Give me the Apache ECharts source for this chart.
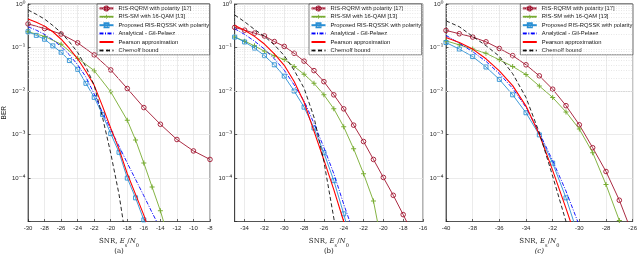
<!DOCTYPE html>
<html><head><meta charset="utf-8">
<script src="https://cdn.jsdelivr.net/npm/echarts@6/dist/echarts.min.js"></script>
<style>html,body{margin:0;padding:0;background:#fff}#c{width:640px;height:260px}</style>
</head><body><div id="c"></div>
<script>
// ---------- data ----------
const names = ['RIS-RQRM with polarity [17]', 'RIS-SM with 16-QAM [13]', 'Proposed RIS-RQSSK with polarity',
  'Analytical - Gil-Pelaez', 'Pearson approximation', 'Chernoff bound'];
const panelLabels = ['(a)', '(b)', '(c)'];
const xTicksB = [-34, -32, -30, -28, -26, -24, -22, -20, -18, -16];

// panel (a)
const snrA_rqrm = [-30, -28, -26, -24, -22, -20, -18, -16, -14, -12, -10, -8];
const rqrmA = [0.349, 0.273, 0.204, 0.128, 0.0675, 0.0305, 0.0114, 0.00416, 0.00172, 7.67e-4, 4.19e-4, 2.67e-4];
const snrA_sm = [-30, -28, -26, -24, -22, -20, -18, -17, -16, -15, -14, -13];
const smA = [0.23, 0.18, 0.119, 0.0568, 0.0294, 0.00955, 0.00212, 7.5e-4, 2.21e-4, 6.2e-5, 1.77e-5, 4e-6];
const snrA_prop = [-30, -29, -28, -27, -26, -25, -24, -23, -22, -21, -20, -19, -18, -17, -16, -15];
const propA = [0.23, 0.19, 0.155, 0.109, 0.0776, 0.0501, 0.0315, 0.015, 0.00714, 0.0029, 0.00105, 3.9e-4, 9.95e-5, 3.5e-5, 1.09e-5, 3e-6];
const snrA_ana = [-30, -29, -28, -27, -26, -25, -24, -23, -22, -21, -20, -19, -18, -17, -16, -15, -14];
const anaA = [0.3, 0.25, 0.2, 0.15, 0.105, 0.068, 0.04, 0.021, 0.0085, 0.0032, 0.0013, 5.4e-4, 2.2e-4, 9.3e-5, 3.9e-5, 1.6e-5, 6.8e-6];
const snrA_pear = [-30, -29, -28, -27, -26, -25, -24, -23, -22, -21, -20, -19, -18, -17, -16, -15];
const pearA = [0.45, 0.38, 0.31, 0.23, 0.155, 0.095, 0.055, 0.028, 0.0135, 0.0045, 0.0014, 4.6e-4, 1.25e-4, 4.2e-5, 1.4e-5, 4e-6];
const snrA_cher = [-30, -29, -28, -27, -26, -25, -24, -23, -22, -21, -20, -19, -18];
const cherA = [0.73, 0.58, 0.45, 0.32, 0.22, 0.135, 0.077, 0.036, 0.0135, 0.0025, 3.7e-4, 4.2e-5, 2.5e-6];

// panel (b)
const snrB_rqrm = [-35, -34, -33, -32, -31, -30, -29, -28, -27, -26, -25, -24, -23, -22, -21, -20, -19, -18, -17];
const rqrmB = [0.29, 0.25, 0.214, 0.184, 0.137, 0.106, 0.0736, 0.0486, 0.0294, 0.0164, 0.00817, 0.00389, 0.00164, 6.9e-4, 2.67e-4, 1.03e-4, 4e-5, 1.44e-5, 5e-6];
const snrB_sm = [-35, -34, -33, -32, -31, -30, -29, -28, -27, -26, -25, -24, -23, -22, -21, -20];
const smB = [0.174, 0.14, 0.109, 0.0817, 0.065, 0.0528, 0.0367, 0.0243, 0.015, 0.00817, 0.0039, 0.0015, 4.7e-4, 1.26e-4, 2.97e-5, 2e-6];
const snrB_prop = [-35, -34, -33, -32, -31, -30, -29, -28, -27, -26, -25, -24, -23];
const propB = [0.174, 0.134, 0.097, 0.065, 0.04, 0.0219, 0.01, 0.00425, 0.00141, 3.8e-4, 8.7e-5, 1.5e-5, 2e-6];
const snrB_ana = [-35, -34, -33, -32, -31, -30, -29, -28, -27, -26, -25, -24, -23];
const anaB = [0.27, 0.2, 0.14, 0.092, 0.055, 0.03, 0.0138, 0.0059, 0.0018, 5e-4, 1.26e-4, 2.5e-5, 5.6e-6];
const snrB_pear = [-35, -34, -33, -32, -31, -30, -29, -28, -27, -26, -25, -24, -23];
const pearB = [0.32, 0.25, 0.18, 0.12, 0.071, 0.039, 0.0165, 0.0055, 0.0012, 2.6e-4, 5.4e-5, 1e-5, 1.7e-6];
const snrB_cher = [-35, -34, -33, -32, -31, -30, -29, -28, -27, -26, -25, -24];
const cherB = [0.56, 0.39, 0.26, 0.18, 0.115, 0.065, 0.03, 0.0116, 0.0025, 2.4e-4, 1.2e-5, 5e-7];

// panel (c)
const snrC_rqrm = [-40, -39, -38, -37, -36, -35, -34, -33, -32, -31, -30, -29, -28, -27, -26];
const rqrmC = [0.247, 0.207, 0.174, 0.135, 0.095, 0.065, 0.04, 0.0223, 0.011, 0.0046, 0.00167, 4.97e-4, 1.41e-4, 3.08e-5, 5e-6];
const snrC_sm = [-40, -39, -38, -37, -36, -35, -34, -33, -32, -31, -30, -29, -28, -27, -26];
const smC = [0.142, 0.115, 0.092, 0.0736, 0.052, 0.0367, 0.0239, 0.013, 0.0071, 0.0033, 0.00133, 3.83e-4, 7.06e-5, 1.05e-5, 8e-7];
const snrC_prop = [-40, -39, -38, -37, -36, -35, -34, -33, -32, -31, -30];
const propC = [0.13, 0.092, 0.0618, 0.0356, 0.0185, 0.00817, 0.00316, 9.8e-4, 2.2e-4, 3.5e-5, 4e-6];
const snrC_ana = [-40, -39, -38, -37, -36, -35, -34, -33, -32, -31, -30];
const anaC = [0.19, 0.125, 0.08, 0.048, 0.025, 0.0115, 0.0042, 0.0011, 2.5e-4, 5e-5, 8e-6];
const snrC_pear = [-40, -39, -38, -37, -36, -35, -34, -33, -32, -31, -30];
const pearC = [0.17, 0.13, 0.092, 0.055, 0.029, 0.0133, 0.0045, 0.001, 1.5e-4, 2e-5, 2.5e-6];
const snrC_cher = [-40, -39, -38, -37, -36, -35, -34, -33, -32, -31, -30];
const cherC = [0.41, 0.3, 0.18, 0.11, 0.063, 0.025, 0.0071, 0.0011, 1.1e-4, 1e-5, 5e-7];

// ---------- chart ----------
const panels = [
  [[snrA_rqrm, rqrmA], [snrA_sm, smA], [snrA_prop, propA], [snrA_ana, anaA], [snrA_pear, pearA], [snrA_cher, cherA]],
  [[snrB_rqrm, rqrmB], [snrB_sm, smB], [snrB_prop, propB], [snrB_ana, anaB], [snrB_pear, pearB], [snrB_cher, cherB]],
  [[snrC_rqrm, rqrmC], [snrC_sm, smC], [snrC_prop, propC], [snrC_ana, anaC], [snrC_pear, pearC], [snrC_cher, cherC]]
];
const zip = (xs, ys) => xs.map((x, i) => [x, ys[i]]);
const colors = ['#A2142F', '#77AC30', '#2A8FD4', '#0000FF', '#FF0000', '#111111'];
const plusPath = 'path://M4,0h2v4h4v2h-4v4h-2v-4h-4v-2h4z';
const supMap = { '-': '\u207B', '0': '\u2070', '1': '\u00B9', '2': '\u00B2', '3': '\u00B3', '4': '\u2074', '5': '\u2075' };
function styleFor(k) {
  const c = colors[k];
  const base = { lineStyle: { color: c, width: 0.9 }, itemStyle: { color: c } };
  if (k === 0) { base.symbol = 'circle'; base.symbolSize = 4.6; base.itemStyle = { color: 'rgba(255,255,255,0)', borderColor: c, borderWidth: 0.9 }; }
  else if (k === 1) { base.symbol = plusPath; base.symbolSize = 5; }
  else if (k === 2) { base.symbol = 'rect'; base.symbolSize = 4; base.itemStyle = { color: 'rgba(255,255,255,0)', borderColor: c, borderWidth: 0.9 }; }
  else if (k === 3) { base.symbol = 'none'; base.lineStyle.type = [4, 1.5, 1, 1.5]; }
  else if (k === 4) { base.symbol = 'none'; base.lineStyle.width = 1.1; }
  else { base.symbol = 'none'; base.lineStyle.type = [4, 2.5]; }
  return base;
}
const grids = [
  { left: 22.3, top: 4, width: 187.7, height: 222 },
  { left: 234.7, top: 4, width: 188.3, height: 222 },
  { left: 446, top: 4, width: 190, height: 222 }
];
const xRanges = [[-30, -8], [-35, -16], [-40, -26]];
const legendLeft = [97, 309, 520.3];
const axisCol = '#262626';
const minorVals = [];
for (let e = -5; e < 0; e++) for (let m = 2; m <= 9; m++) minorVals.push(m * Math.pow(10, e));
const legendData = names.map((n, k) => k >= 3 ? { name: n, itemStyle: { color: 'rgba(0,0,0,0)', borderWidth: 0 } } : { name: n });

const option = {
  animation: false,
  backgroundColor: '#fff',
  grid: grids.map(g => Object.assign({ show: true, borderColor: axisCol, borderWidth: 0.7, backgroundColor: '#fff' }, g)),
  xAxis: grids.map((g, i) => {
    const ax = {
      type: 'value', gridIndex: i, min: xRanges[i][0], max: xRanges[i][1],
      axisLine: { show: true, lineStyle: { color: axisCol, width: 0.7 } },
      axisTick: { show: true, inside: true, length: 2.5, lineStyle: { color: axisCol, width: 0.7 } },
      axisLabel: { color: axisCol, fontSize: 6, fontFamily: 'Liberation Sans', margin: 4 },
      splitLine: { show: true, lineStyle: { color: '#e3e3e3', width: 0.7 } },
      name: '{t|SNR, }{it|E}{sub|s}{t|/}{it|N}{sub|0}\n' + (i === 2 ? '{pi|(c)}' : '{p|' + panelLabels[i] + '}'),
      nameLocation: 'middle', nameGap: 15,
      nameTextStyle: {
        color: '#222', fontFamily: 'DejaVu Serif', fontSize: 7,
        rich: {
          t: { fontFamily: 'DejaVu Serif', fontSize: 7, color: '#222', lineHeight: 10 },
          it: { fontFamily: 'DejaVu Serif', fontStyle: 'italic', fontSize: 7, color: '#222', lineHeight: 10 },
          sub: { fontFamily: 'DejaVu Serif', fontSize: 5, color: '#222', lineHeight: 10, verticalAlign: 'bottom', padding: [0, 0, -2, 0] },
          p: { fontFamily: 'DejaVu Serif', fontSize: 7, color: '#222', lineHeight: 10 },
          pi: { fontFamily: 'DejaVu Serif', fontStyle: 'italic', fontSize: 7, color: '#222', lineHeight: 10 }
        }
      }
    };
    if (i === 1) {
      ax.axisLabel.customValues = xTicksB;
      ax.axisTick.customValues = xTicksB;
    } else {
      ax.interval = 2;
    }
    return ax;
  }),
  yAxis: grids.map((g, i) => ({
    type: 'log', logBase: 10, gridIndex: i, min: 1e-5, max: 1,
    axisLine: { show: true, lineStyle: { color: axisCol, width: 0.7 } },
    axisTick: { show: true, inside: true, length: 2.5, lineStyle: { color: axisCol, width: 0.7 } },
    axisLabel: {
      color: axisCol, margin: 2.5,
      formatter: v => {
        const e = Math.round(Math.log10(v));
        if (e <= -5) return '';
        return '{b|10}{s|' + String(e).split('').map(ch => supMap[ch]).join('') + '}';
      },
      rich: {
        b: { fontSize: 6, fontFamily: 'Liberation Sans', color: axisCol, lineHeight: 8 },
        s: { fontSize: 7.5, fontFamily: 'DejaVu Sans', color: axisCol, lineHeight: 8 }
      }
    },
    splitLine: { show: true, lineStyle: { color: '#e3e3e3', width: 0.7 } },
    name: i === 0 ? 'BER' : '', nameLocation: 'middle', nameGap: 15, nameRotate: 90,
    nameTextStyle: { color: '#222', fontSize: 6.5, fontFamily: 'Liberation Sans' }
  })),
  legend: grids.map((g, i) => ({
    data: legendData, orient: 'vertical', left: legendLeft[i], top: 4, align: 'left',
    itemWidth: 14, itemHeight: 5, itemGap: 1.2,
    padding: [0.8, 0.6, 0.8, 1.5],
    backgroundColor: '#fff', borderColor: axisCol, borderWidth: 0.6, borderRadius: 0,
    textStyle: { fontSize: 5.8, fontFamily: 'Liberation Sans', color: '#111', lineHeight: 7.2 },
    selectedMode: false
  })),
  series: []
};

panels.forEach((p, gi) => {
  option.series.push({
    type: 'line', name: 'minor-grid-' + gi, xAxisIndex: gi, yAxisIndex: gi, data: [], silent: true, z: 1,
    markLine: {
      silent: true, symbol: ['none', 'none'], label: { show: false }, animation: false,
      lineStyle: { color: '#d6d6d6', type: [1, 1.5], width: 0.6 },
      emphasis: { disabled: true },
      data: minorVals.map(v => ({ yAxis: v }))
    }
  });
  p.forEach((d, k) => {
    option.series.push(Object.assign({
      type: 'line', name: names[k], xAxisIndex: gi, yAxisIndex: gi,
      data: zip(d[0], d[1]), showSymbol: k < 3, clip: true, z: 2 + k
    }, styleFor(k)));
  });
});

const chart = echarts.init(document.getElementById('c'), null, { renderer: 'canvas' });
chart.setOption(option);
</script></body></html>
